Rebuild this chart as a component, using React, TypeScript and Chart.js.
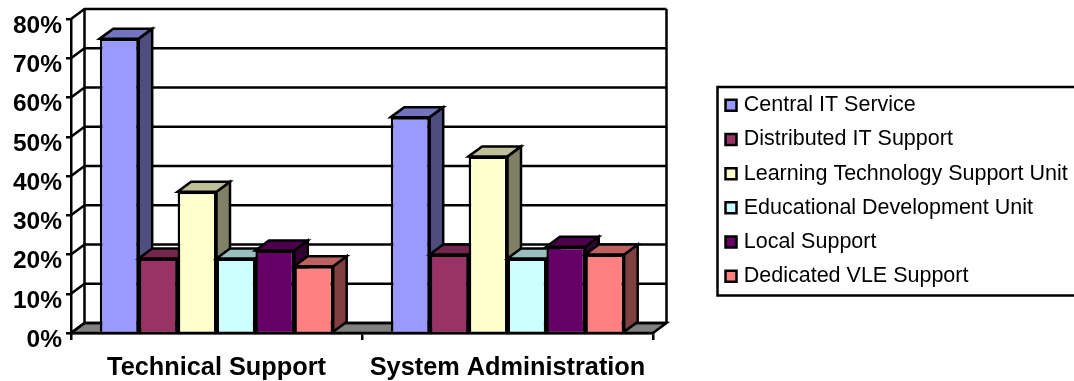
import React, { useEffect, useRef } from "react";
import { Chart, registerables } from "chart.js";

Chart.register(...registerables);

const categories = ["Technical Support", "System Administration"];
const seriesNames = [
  "Central IT Service",
  "Distributed IT Support",
  "Learning Technology Support Unit",
  "Educational Development Unit",
  "Local Support",
  "Dedicated VLE Support",
];
const centralIT = [75, 55];
const distributedIT = [19, 20];
const learningTech = [36, 45];
const educationalDev = [19, 19];
const localSupport = [21, 22];
const dedicatedVLE = [17, 20];
const seriesValues = [centralIT, distributedIT, learningTech, educationalDev, localSupport, dedicatedVLE];
const seriesColors = ["#9999FF", "#993366", "#FFFFCC", "#CCFFFF", "#660066", "#FF8080"];

const FONT = "'Liberation Sans', Arial, sans-serif";
const DEPTH_X = 13.5;
const DEPTH_Y = 10;
const LINE = 2.5;

// Scales a #rrggbb colour towards black to shade the faces of a column.
function shade(hex: string, factor: number) {
  const n = parseInt(hex.slice(1), 16);
  const r = Math.round(((n >> 16) & 255) * factor);
  const g = Math.round(((n >> 8) & 255) * factor);
  const b = Math.round((n & 255) * factor);
  return `rgb(${r},${g},${b})`;
}

function polygon(ctx: CanvasRenderingContext2D, pts: number[][], fill?: string) {
  ctx.beginPath();
  pts.forEach(([x, y], i) => (i ? ctx.lineTo(x, y) : ctx.moveTo(x, y)));
  ctx.closePath();
  if (fill) {
    ctx.fillStyle = fill;
    ctx.fill();
  }
  ctx.stroke();
}

// Back wall, floor and receding gridlines, then columns painted left to right
// so each front face hides the side of the column before it.
const extrusion = {
  id: "extrusion",
  beforeDatasetsDraw(chart: any) {
    const { ctx, chartArea, scales } = chart;
    const { left, right, bottom } = chartArea;
    const y = scales.y;
    ctx.save();
    ctx.strokeStyle = "#000";
    ctx.lineWidth = LINE;
    polygon(
      ctx,
      [
        [left, bottom],
        [left + DEPTH_X, bottom - DEPTH_Y],
        [right + DEPTH_X, bottom - DEPTH_Y],
        [right, bottom],
      ],
      "#808080"
    );
    y.ticks.forEach((t: any) => {
      const py = y.getPixelForValue(t.value);
      ctx.beginPath();
      ctx.moveTo(left, py);
      ctx.lineTo(left + DEPTH_X, py - DEPTH_Y);
      ctx.lineTo(right + DEPTH_X, py - DEPTH_Y);
      ctx.stroke();
    });
    const wallTop = y.getPixelForValue(y.max) - DEPTH_Y;
    ctx.beginPath();
    ctx.moveTo(left + DEPTH_X, bottom - DEPTH_Y);
    ctx.lineTo(left + DEPTH_X, wallTop);
    ctx.moveTo(right + DEPTH_X, bottom - DEPTH_Y);
    ctx.lineTo(right + DEPTH_X, wallTop);
    ctx.stroke();
    ctx.restore();
  },
  beforeDatasetDraw() {
    return false;
  },
  afterDatasetsDraw(chart: any) {
    const { ctx } = chart;
    ctx.save();
    ctx.lineJoin = "miter";
    chart.data.datasets.forEach((ds: any, i: number) => {
      chart.getDatasetMeta(i).data.forEach((bar: any) => {
        const l = bar.x - bar.width / 2;
        const r = bar.x + bar.width / 2;
        ctx.strokeStyle = "#000";
        ctx.lineWidth = LINE;
        polygon(
          ctx,
          [
            [r, bar.y],
            [r + DEPTH_X, bar.y - DEPTH_Y],
            [r + DEPTH_X, bar.base - DEPTH_Y],
            [r, bar.base],
          ],
          shade(ds.backgroundColor, 0.5)
        );
        polygon(
          ctx,
          [
            [l, bar.y],
            [l + DEPTH_X, bar.y - DEPTH_Y],
            [r + DEPTH_X, bar.y - DEPTH_Y],
            [r, bar.y],
          ],
          shade(ds.backgroundColor, 0.75)
        );
        bar.draw(ctx);
      });
    });
    ctx.restore();
  },
  afterLayout(chart: any) {
    // Legend sits to the right of the plot, clear of the chart area.
    const legend = chart.legend;
    const h = legend.height;
    const w = legend.width;
    legend.left = 716.3;
    legend.top = 81.8;
    legend.right = legend.left + w;
    legend.bottom = legend.top + h;
  },
  afterDraw(chart: any) {
    const { ctx } = chart;
    ctx.save();
    ctx.strokeStyle = "#000";
    ctx.lineWidth = LINE;
    ctx.strokeRect(717.5, 87, 360, 208.5);
    ctx.restore();
  },
};

export default function App() {
  const ref = useRef<HTMLCanvasElement>(null);

  useEffect(() => {
    if (!ref.current) return;
    const chart = new Chart(ref.current, {
      type: "bar",
      data: {
        labels: categories,
        datasets: seriesNames.map((label, i) => ({
          label,
          data: seriesValues[i],
          backgroundColor: seriesColors[i],
          borderColor: "#000",
          borderWidth: LINE,
          categoryPercentage: 0.802,
          barPercentage: 1,
        })),
      },
      options: {
        responsive: false,
        animation: false,
        layout: { padding: { top: 19, right: 421, left: 0, bottom: 0 } },
        plugins: {
          title: { display: false },
          tooltip: { enabled: false },
          legend: {
            position: "chartArea",
            align: "start",
            labels: {
              color: "#000",
              font: { family: FONT, size: 21.5 },
              usePointStyle: true,
              pointStyle: "rect",
              boxWidth: 4,
              boxHeight: 11,
              padding: 12.7,
            },
          },
        },
        scales: {
          x: {
            afterFit(scale: any) {
              scale.height = 48;
            },
            border: { color: "#000", width: LINE },
            grid: { color: "#000", lineWidth: LINE, drawOnChartArea: false, tickLength: 7 },
            ticks: {
              color: "#000",
              padding: 13,
              maxRotation: 0,
              font: { family: FONT, size: 25.3, weight: "bold" },
            },
          },
          y: {
            min: 0,
            max: 80,
            afterFit(scale: any) {
              scale.width = 71;
            },
            border: { color: "#000", width: LINE },
            grid: { color: "#000", lineWidth: LINE, drawOnChartArea: false, tickLength: 5 },
            ticks: {
              color: "#000",
              stepSize: 10,
              padding: 4,
              labelOffset: 7,
              font: { family: FONT, size: 24.5, weight: "bold" },
              callback: (v: any) => `${v}%`,
            },
          },
        },
      },
      plugins: [extrusion],
    } as any);
    return () => chart.destroy();
  }, []);

  return (
    <canvas
      ref={ref}
      width={1074}
      height={381}
      style={{ position: "fixed", left: 0, top: 0, display: "block" }}
    />
  );
}
